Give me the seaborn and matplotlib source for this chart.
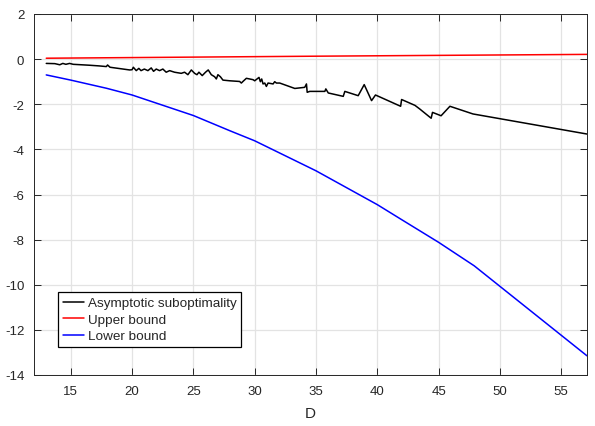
import matplotlib
matplotlib.use("Agg")
import matplotlib.pyplot as plt
import seaborn as sns
import pandas as pd

black_D = [13.0, 13.7, 14.1, 14.35, 14.6, 14.9, 15.2, 16.5, 17.3, 17.9, 18.0, 18.2, 19.8, 20.0, 20.1,
           20.34, 20.55, 20.73, 21.0, 21.29, 21.56, 21.75, 21.97, 22.24, 22.51, 22.78, 23.06, 23.46,
           24.01, 24.28, 24.55, 24.83, 25.1, 25.29, 25.45, 25.72, 25.99, 26.21, 26.46, 26.73, 26.87,
           27.0, 27.2, 27.41, 27.96, 28.77, 28.91, 29.04, 29.32, 29.86, 30.0, 30.35, 30.46, 30.57,
           30.68, 30.82, 30.95, 31.09, 31.5, 31.63, 31.77, 32.04, 33.27, 34.08, 34.22, 34.28, 34.49,
           35.72, 35.8, 36.0, 37.22, 37.35, 38.44, 38.93, 39.53, 39.85, 41.9, 41.98, 43.07, 43.46,
           44.39, 44.5, 45.2, 45.92, 47.8, 57.1]
black_val = [-0.19, -0.20, -0.25, -0.19, -0.23, -0.19, -0.23, -0.27, -0.30, -0.33, -0.26, -0.36, -0.48,
             -0.47, -0.36, -0.51, -0.41, -0.51, -0.44, -0.51, -0.39, -0.54, -0.44, -0.51, -0.44, -0.58,
             -0.51, -0.58, -0.63, -0.58, -0.69, -0.48, -0.63, -0.69, -0.58, -0.73, -0.58, -0.48, -0.69,
             -0.78, -0.88, -0.69, -0.78, -0.93, -0.96, -0.99, -1.06, -0.99, -0.85, -0.91, -0.96, -0.81,
             -1.0, -0.88, -1.1, -1.06, -1.21, -1.06, -1.1, -1.0, -1.06, -1.06, -1.30, -1.25, -1.1,
             -1.47, -1.43, -1.43, -1.32, -1.5, -1.65, -1.43, -1.62, -1.13, -1.84, -1.59, -2.09, -1.79,
             -2.05, -2.21, -2.62, -2.36, -2.51, -2.09, -2.43, -3.32]

upper_D = [13.0, 35.0, 57.1]
upper_val = [0.04, 0.13, 0.21]

lower_D = [13.0, 15.0, 17.9, 20.0, 25.0, 28.0, 30.0, 35.0, 40.0, 42.0, 45.0, 47.9, 57.1]
lower_val = [-0.70, -0.93, -1.29, -1.59, -2.50, -3.18, -3.62, -4.95, -6.45, -7.12, -8.12, -9.16, -13.15]

x_ticks = [15, 20, 25, 30, 35, 40, 45, 50, 55]
y_ticks = [-14, -12, -10, -8, -6, -4, -2, 0, 2]

sns.set_style("white")
plt.rcParams["font.family"] = ["Liberation Sans", "DejaVu Sans"]
plt.rcParams["axes.unicode_minus"] = False

fig = plt.figure(figsize=(5.95, 4.27), dpi=100)
ax = fig.add_axes([34 / 595, 1 - 376 / 427, 553 / 595, 361 / 427])

df_b = pd.DataFrame({"D": black_D, "v": black_val})
df_u = pd.DataFrame({"D": upper_D, "v": upper_val})
df_l = pd.DataFrame({"D": lower_D, "v": lower_val})

sns.lineplot(data=df_b, x="D", y="v", sort=False, color="black", lw=1.1, ax=ax,
             label="Asymptotic suboptimality")
sns.lineplot(data=df_u, x="D", y="v", sort=False, color="#ff0000", lw=1.1, ax=ax, label="Upper bound")
sns.lineplot(data=df_l, x="D", y="v", sort=False, color="#0000ff", lw=1.1, ax=ax, label="Lower bound")

ax.set_xlim(12, 57.1)
ax.set_ylim(-14, 2)
ax.set_xticks(x_ticks)
ax.set_yticks(y_ticks)
ax.grid(True, color="#e3e3e3", lw=0.9)
ax.set_axisbelow(True)
ax.set_xlabel("D", fontsize=11, color="#262626", labelpad=7)
ax.set_ylabel("")
for s in ax.spines.values():
    s.set_visible(True)
    s.set_color("#262626")
    s.set_linewidth(0.7)
ax.tick_params(direction="in", length=5, width=0.7, colors="#262626", labelsize=9.5,
               top=True, right=True, bottom=True, left=True, pad=7)

leg = ax.legend(loc="lower left", bbox_to_anchor=(24 / 553, 28 / 361), borderaxespad=0,
                fontsize=9.7, frameon=True, fancybox=False, handlelength=1.6, handletextpad=0.25,
                labelspacing=0.3, borderpad=0.35)
leg.get_frame().set_edgecolor("black")
leg.get_frame().set_linewidth(0.9)
leg.get_frame().set_alpha(1)

fig.savefig("out.png", dpi=100)
